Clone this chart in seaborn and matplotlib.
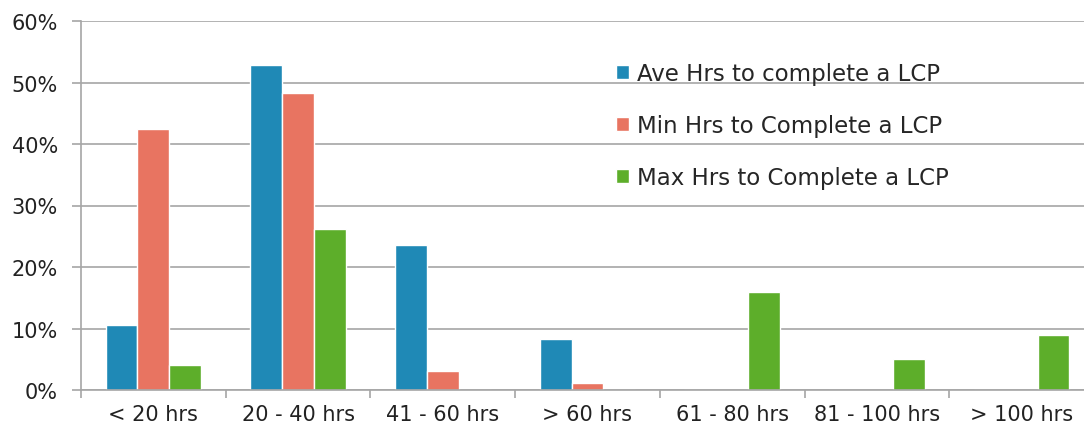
import numpy as np
import pandas as pd
import matplotlib
matplotlib.use("Agg")
import matplotlib.pyplot as plt
import seaborn as sns
from matplotlib.ticker import PercentFormatter

# --- data ---
categories = ["< 20 hrs", "20 - 40 hrs", "41 - 60 hrs", "> 60 hrs",
              "61 - 80 hrs", "81 - 100 hrs", "> 100 hrs"]
series_names = ["Ave Hrs to complete a LCP",
                "Min Hrs to Complete a LCP",
                "Max Hrs to Complete a LCP"]
ave_hrs = [10.6, 52.8, 23.6, 8.3, 0, 0, 0]
min_hrs = [42.5, 48.3, 3.1, 1.2, 0, 0, 0]
max_hrs = [4.1, 26.2, 0, 0, 16.0, 5.0, 8.9]
colors = ["#1f89b6", "#e87461", "#5dae2a"]

df = pd.DataFrame({
    "category": categories * 3,
    "series": np.repeat(series_names, len(categories)),
    "value": ave_hrs + min_hrs + max_hrs,
})

sns.set_style("white")
plt.rcParams["font.family"] = ["DejaVu Sans"]

fig = plt.figure(figsize=(10.84, 4.35), dpi=100)
W, H = 1084, 435
ax = fig.add_axes([81 / W, (H - 391) / H, (1094 - 81) / W, (391 - 22) / H])

sns.barplot(data=df, x="category", y="value", hue="series",
            order=categories, hue_order=series_names,
            palette=colors, width=0.66, saturation=1, ax=ax)

grid_c = "#a6a6a6"
ax.set_xlim(-0.5, 6.5)
ax.set_ylim(0, 60)
ax.set_yticks(range(0, 61, 10))
ax.yaxis.set_major_formatter(PercentFormatter(decimals=0))
ax.grid(axis="y", color=grid_c, linewidth=1.2)
ax.set_axisbelow(True)
ax.set_xlabel("")
ax.set_ylabel("")

for s in ["top", "right"]:
    ax.spines[s].set_visible(False)
for s in ["left", "bottom"]:
    ax.spines[s].set_color(grid_c)
    ax.spines[s].set_linewidth(1.2)

ax.tick_params(axis="y", left=True, length=6.5, color=grid_c, width=1.2,
               labelsize=15, labelcolor="#222222", pad=10)
ax.tick_params(axis="x", which="major", bottom=False, length=0, labelsize=15,
               labelcolor="#222222", pad=10)
ax.set_xticks(np.arange(-0.5, 7, 1), minor=True)
ax.tick_params(axis="x", which="minor", bottom=True, length=6,
               color=grid_c, width=1.2)

handles, labels = ax.get_legend_handles_labels()
ax.legend(handles, labels, loc="upper left",
          bbox_to_anchor=(605 / W, 1 - 52 / H), bbox_transform=fig.transFigure,
          frameon=False, fontsize=16.5, handlelength=0.55, handleheight=0.55,
          handletextpad=0.35, labelspacing=1.25, borderpad=0)

fig.savefig("out.png", dpi=100)
